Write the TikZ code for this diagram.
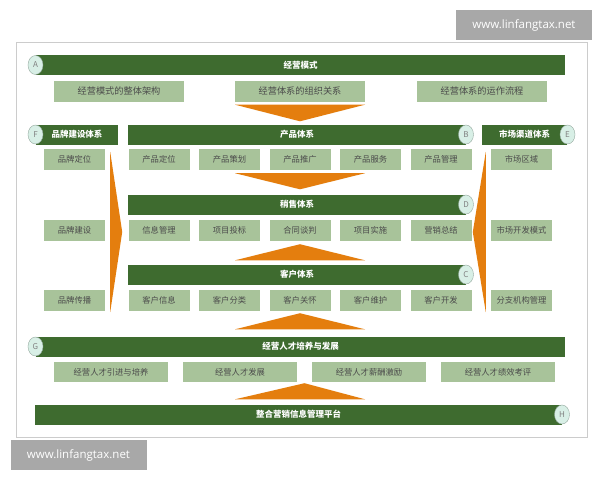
\documentclass[tikz,border=0pt]{standalone}
\usepackage{fontspec}
\setmainfont{Noto Sans CJK SC}
\newfontfamily\wmfont{Open Sans}
\usepackage{tikz}
\usetikzlibrary{shapes.geometric, calc, positioning}
\definecolor{bargreen}{RGB}{62,107,47}
\definecolor{subgreen}{RGB}{168,195,154}
\definecolor{subtext}{RGB}{75,75,75}
\definecolor{pfeilorange}{RGB}{228,126,14}
\definecolor{badgefill}{RGB}{216,239,230}
\definecolor{badgeline}{RGB}{150,170,160}
\definecolor{wmgray}{RGB}{168,168,168}

\begin{document}
\begin{tikzpicture}[x=1pt, y=-1pt,
  bar/.style={rectangle, fill=bargreen, text=white, minimum height=20pt, inner sep=0pt, font=\bfseries\fontsize{8.5}{9}\selectfont},
  sub/.style={rectangle, fill=subgreen, text=subtext, minimum height=21pt, minimum width=61pt, inner sep=0pt, font=\fontsize{8.3}{9}\selectfont},
  badge/.style={ellipse, draw=badgeline, fill=badgefill, text=gray, minimum width=15pt, minimum height=19pt, inner sep=0pt, font=\fontsize{8}{9}\selectfont},
  pfeil/.style={fill=pfeilorange},
  watermark/.style={rectangle, fill=wmgray, text=white, inner sep=0pt, minimum width=136pt, minimum height=30pt, font=\wmfont\fontsize{11.5}{12}\selectfont}
]
\useasboundingbox (0,0) rectangle (600,480);

% --- Rahmen ---
\node[draw=black!20, line width=1pt, fill=white, minimum width=571pt, minimum height=395pt, inner sep=0pt] (rahmen) at (301.5,239.5) {};

% --- Zeile A: Geschaeftsmodell ---
\node[bar, minimum width=529pt] (modell) at (300.5,65) {经营模式};
\node[badge] (badgeA) at (35.5,65) {A};
\node[sub, minimum width=130pt, font=\fontsize{9.2}{10}\selectfont] (aArch) at (119,91) {经营模式的整体架构};
\node[sub, minimum width=130pt, font=\fontsize{9.2}{10}\selectfont] (aOrg)  at (300,91) {经营体系的组织关系};
\node[sub, minimum width=130pt, font=\fontsize{9.2}{10}\selectfont] (aLauf) at (482,91) {经营体系的运作流程};

% --- Zeile B: Produkt, Marke, Markt ---
\node[bar, minimum width=82pt] (marke) at (77,134.5) {品牌建设体系};
\node[badge] (badgeF) at (35.5,134.5) {F};
\node[bar, minimum width=338pt] (produkt) at (297,134.5) {产品体系};
\node[badge] (badgeB) at (466,134.5) {B};
\node[bar, minimum width=85pt] (markt) at (524.5,134.5) {市场渠道体系};
\node[badge] (badgeE) at (567.5,134.5) {E};

\node[sub] (f1) at (74.5,159.5) {品牌定位};
\foreach \txt [count=\i from 0] in {产品定位,产品策划,产品推广,产品服务,产品管理}
  \node[sub] (p\i) at (159+70.5*\i,159.5) {\txt};
\node[sub] (e1) at (521.5,159.5) {市场区域};

% --- Zeile D: Vertrieb ---
\node[bar, minimum width=338pt] (vertrieb) at (297,204.5) {稍售体系};
\node[badge] (badgeD) at (466,204.5) {D};
\node[sub] (f2) at (74.5,230.5) {品牌建设};
\foreach \txt [count=\i from 0] in {信息管理,项目投标,合同谈判,项目实施,营销总结}
  \node[sub] (v\i) at (159+70.5*\i,230.5) {\txt};
\node[sub] (e2) at (521.5,230.5) {市场开发模式};

% --- Zeile C: Kunden ---
\node[bar, minimum width=338pt] (kunde) at (297,274.5) {客户体系};
\node[badge] (badgeC) at (466,274.5) {C};
\node[sub] (f3) at (74.5,300.5) {品牌传播};
\foreach \txt [count=\i from 0] in {客户信息,客户分类,客户关怀,客户维护,客户开发}
  \node[sub] (k\i) at (159+70.5*\i,300.5) {\txt};
\node[sub] (e3) at (521.5,300.5) {分支机构管理};

% --- Zeile G: Personal ---
\node[bar, minimum width=529pt] (personal) at (300.5,346.5) {经营人才培养与发展};
\node[badge] (badgeG) at (35.5,346.5) {G};
\foreach \txt [count=\i from 0] in {经营人才引进与培养,经营人才发展,经营人才薪酬激励,经营人才绩效考评}
  \node[sub, minimum width=114pt, minimum height=20pt] (g\i) at (111+129*\i,372) {\txt};

% --- Zeile H: Plattform ---
\node[bar, minimum width=527pt] (plattform) at (298.5,414.5) {整合营销信息管理平台};
\node[badge] (badgeH) at (562,414.5) {H};

% Pfeile (Dreiecke)
\fill[pfeil] ($(aOrg.south)+(-65,3)$) -- ($(aOrg.south)+(65,3)$) -- ($(aOrg.south |- produkt.north)+(0,-3)$) -- cycle;
\fill[pfeil] ($(p2.south)+(-65,3)$) -- ($(p2.south)+(65,3)$) -- ($(p2.south |- vertrieb.north)+(0,-5)$) -- cycle;
\fill[pfeil] ($(v2.south)+(0,3)$) -- ($(v2.south |- kunde.north)+(-65,-4)$) -- ($(v2.south |- kunde.north)+(65,-4)$) -- cycle;
\fill[pfeil] ($(k2.south)+(0,2)$) -- ($(k2.south |- personal.north)+(-65,-7)$) -- ($(k2.south |- personal.north)+(65,-7)$) -- cycle;
\fill[pfeil] ($(g1.south east)!0.5!(g2.south west)+(0,1)$) -- ($(aOrg.south |- plattform.north)+(-65,-5)$) -- ($(aOrg.south |- plattform.north)+(65,-5)$) -- cycle;

% Seitliche Pfeile
\fill[pfeil] ($(f1.north east)+(5,3)$) -- ($(f2.east)+(17,1.5)$) -- ($(f3.south east)+(5,1)$) -- cycle;
\fill[pfeil] ($(e1.north west)+(-5,3)$) -- ($(e2.west)+(-18,1.5)$) -- ($(e3.south west)+(-5,1)$) -- cycle;

% --- Wasserzeichen ---
\node[watermark] (wmOben) at (524,25) {www.linfangtax.net};
\node[watermark] (wmUnten) at (78.5,455) {www.linfangtax.net};
\end{tikzpicture}
\end{document}
